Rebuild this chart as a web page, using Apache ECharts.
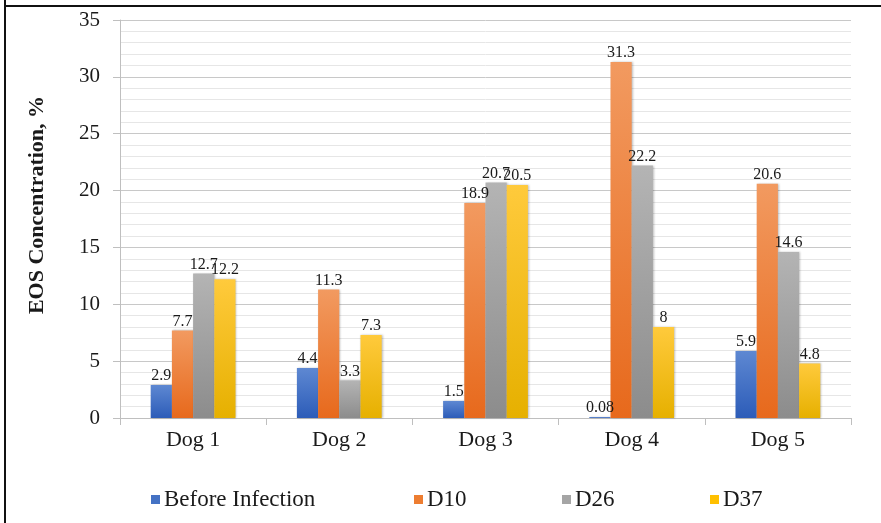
<!DOCTYPE html>
<html>
<head>
<meta charset="utf-8">
<script src="https://cdn.jsdelivr.net/npm/echarts@6/dist/echarts.min.js"></script>
<style>
html,body{margin:0;padding:0;background:#fff;}
#c{width:881px;height:523px;}
</style>
</head>
<body>
<div id="c"></div>
<script>
var categories = ['Dog 1', 'Dog 2', 'Dog 3', 'Dog 4', 'Dog 5'];
var seriesNames = ['Before Infection', 'D10', 'D26', 'D37'];
var beforeInfection = [2.9, 4.4, 1.5, 0.08, 5.9];
var d10 = [7.7, 11.3, 18.9, 31.3, 20.6];
var d26 = [12.7, 3.3, 20.7, 22.2, 14.6];
var d37 = [12.2, 7.3, 20.5, 8, 4.8];
var yTicks = [0, 5, 10, 15, 20, 25, 30, 35];

var FONT = '"Liberation Serif", "Times New Roman", serif';
var colors = [
  ['#5e88d2', '#2c5cb8', '#4472c4'],
  ['#f29a60', '#e7691c', '#ed7d31'],
  ['#b4b4b4', '#8c8c8c', '#a5a5a5'],
  ['#ffca3c', '#e6b000', '#ffc000']
];
function grad(c) {
  return new echarts.graphic.LinearGradient(0, 0, 0, 1, [
    {offset: 0, color: c[0]}, {offset: 1, color: c[1]}
  ]);
}
var allData = [beforeInfection, d10, d26, d37];
var series = allData.map(function (arr, i) {
  return {
    name: seriesNames[i],
    type: 'bar',
    data: arr,
    barGap: '0%',
    barCategoryGap: '42%',
    itemStyle: {
      color: grad(colors[i]),
      shadowColor: 'rgba(0,0,0,0.25)',
      shadowBlur: 2,
      shadowOffsetX: 1,
      shadowOffsetY: 0
    },
    label: {
      show: true,
      position: 'top',
      distance: 1,
      fontFamily: FONT,
      fontSize: 16,
      color: '#1a1a1a'
    }
  };
});

var legendLefts = [146, 409, 557, 705];
var legends = seriesNames.map(function (n, i) {
  return {
    left: legendLefts[i],
    top: 483,
    itemWidth: 9,
    itemHeight: 9,
    icon: 'rect',
    textStyle: {fontFamily: FONT, fontSize: 23, color: '#1a1a1a', padding: [0, 0, 0, -1]},
    data: [{name: n, itemStyle: {color: colors[i][2]}}]
  };
});

var chart = echarts.init(document.getElementById('c'), null, {renderer: 'canvas'});
chart.setOption({
  animation: false,
  backgroundColor: '#fff',
  color: colors.map(function (c) { return c[2]; }),
  grid: {left: 120, right: 30, top: 20, bottom: 105, containLabel: false},
  legend: legends,
  xAxis: {
    type: 'category',
    data: categories,
    axisLine: {show: true, lineStyle: {color: '#bfbfbf', width: 1}},
    axisTick: {show: true, length: 7, alignWithLabel: false, lineStyle: {color: '#bfbfbf'}},
    axisLabel: {fontFamily: FONT, fontSize: 22, color: '#1a1a1a', margin: 11},
    splitLine: {show: false}
  },
  yAxis: {
    type: 'value',
    min: 0,
    max: 35,
    interval: 5,
    name: 'EOS Concentration, %',
    nameLocation: 'middle',
    nameGap: 72,
    nameTextStyle: {fontFamily: FONT, fontSize: 22, fontWeight: 'bold', color: '#1a1a1a', padding: [0, 0, 0, 28]},
    axisLine: {show: true, lineStyle: {color: '#bfbfbf', width: 1}},
    axisTick: {show: true, length: 7, lineStyle: {color: '#bfbfbf'}},
    axisLabel: {
      fontFamily: FONT, fontSize: 21, color: '#1a1a1a', margin: 20,
      formatter: function (v) { return yTicks.indexOf(v) >= 0 ? String(v) : ''; }
    },
    splitLine: {show: true, lineStyle: {color: '#c8c8c8', width: 1}},
    minorTick: {show: false, splitNumber: 5},
    minorSplitLine: {show: true, lineStyle: {color: '#e6e6e6', width: 1}}
  },
  series: series,
  graphic: [
    {type: 'line', shape: {x1: 5, y1: 0, x2: 5, y2: 523}, style: {stroke: '#111', lineWidth: 2}, silent: true},
    {type: 'line', shape: {x1: 4, y1: 6, x2: 881, y2: 6}, style: {stroke: '#111', lineWidth: 2}, silent: true}
  ]
});
</script>
</body>
</html>
